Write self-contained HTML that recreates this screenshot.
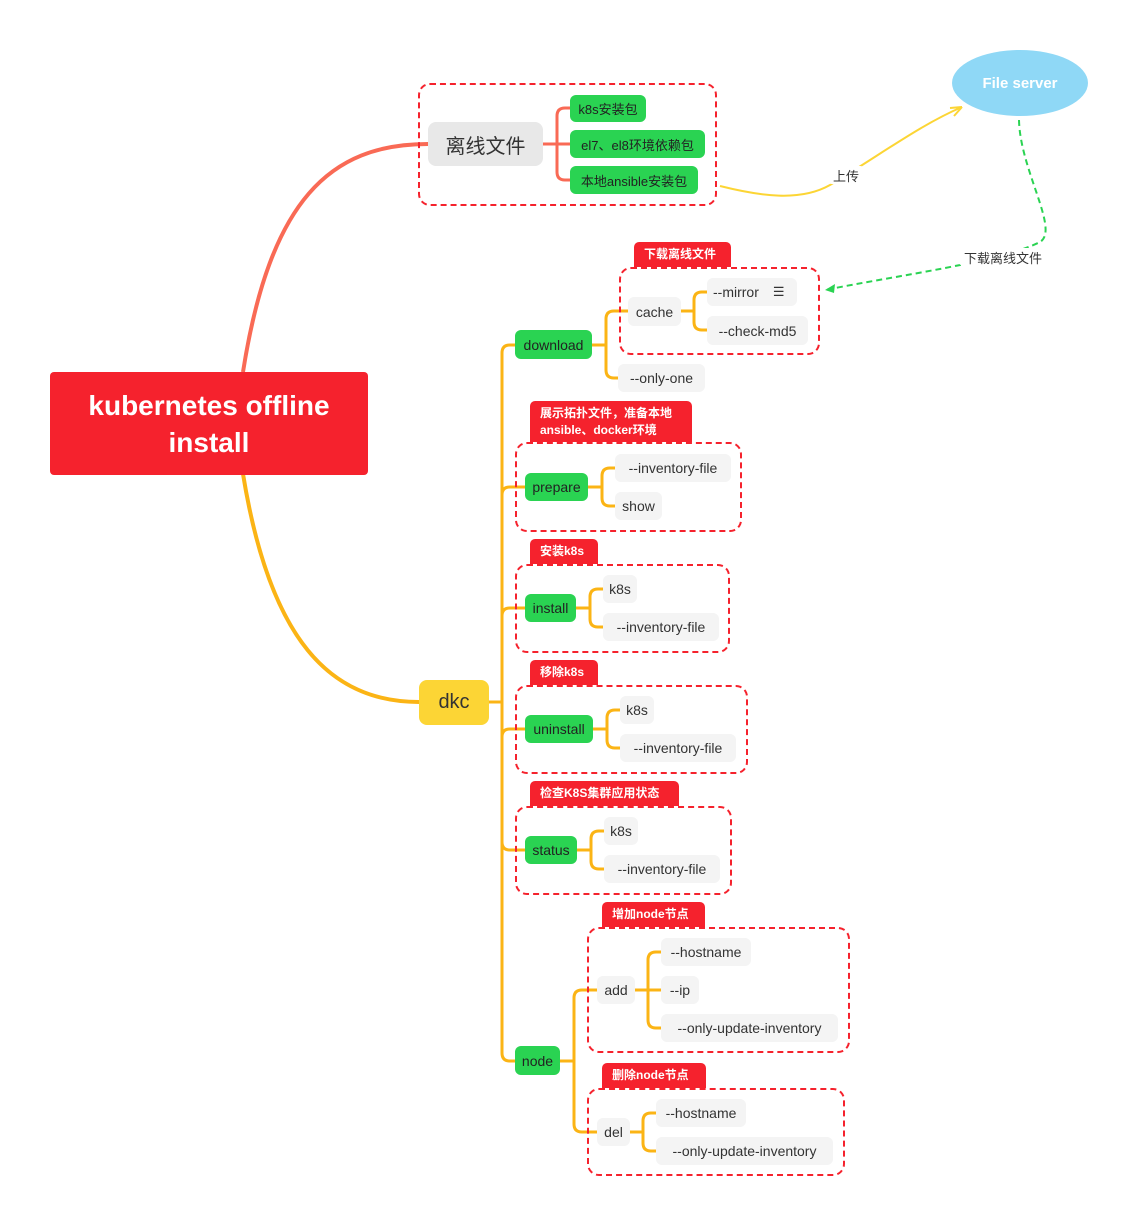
<!DOCTYPE html>
<html><head><meta charset="utf-8"><style>
body{margin:0;width:1138px;height:1226px;background:#fff;position:relative;overflow:hidden;font-family:"Liberation Sans","Noto Sans CJK SC",sans-serif;}
.n{position:absolute;box-sizing:border-box;display:flex;align-items:center;justify-content:center;white-space:nowrap;color:#333;font-size:14px;border-radius:6px;}
.g{background:#2ad352;color:#222;}
.s{background:#f4f4f4;}
.t{background:#f5222d;color:#fff;font-weight:bold;font-size:12px;border-radius:5px 5px 0 0;justify-content:flex-start;padding-left:10px;line-height:17px}
.b{position:absolute;box-sizing:border-box;border:2px dashed #f5222d;border-radius:12px;}
svg{position:absolute;left:0;top:0}
</style></head><body>
<svg width="1138" height="1226" fill="none">
<path d="M243 372 C 270 200, 330 144, 428 144" stroke="#f96a55" stroke-width="4"/>
<path d="M243 474 C 270 640, 330 702, 419 702" stroke="#fbb415" stroke-width="4"/>
<g stroke="#f96a55" stroke-width="3">
<path d="M543 144 H570 M557 144 V116 Q557 108 565 108 H570 M557 144 V172 Q557 180 565 180 H570"/>
</g>
<g stroke="#fbb415" stroke-width="3">
<path d="M488 702 H502 M502 702 V353 Q502 345 510 345 H515 M502 702 V495 Q502 487 510 487 H525 M502 702 V616 Q502 608 510 608 H525 M502 702 V737 Q502 729 510 729 H525 M502 702 V842 Q502 850 510 850 H525 M502 702 V1053 Q502 1061 510 1061 H515"/>
<path d="M592 345 H606 M606 345 V319 Q606 311 614 311 H628 M606 345 V370 Q606 378 614 378 H618"/>
<path d="M681 311 H694 M694 311 V300 Q694 292 702 292 H707 M694 311 V322 Q694 330 702 330 H707"/>
<path d="M588 487 H602 M602 487 V476 Q602 468 610 468 H615 M602 487 V498 Q602 506 610 506 H615"/>
<path d="M576 608 H590 M590 608 V597 Q590 589 598 589 H603 M590 608 V619 Q590 627 598 627 H603"/>
<path d="M593 729 H607 M607 729 V718 Q607 710 615 710 H620 M607 729 V740 Q607 748 615 748 H620"/>
<path d="M577 850 H591 M591 850 V839 Q591 831 599 831 H604 M591 850 V861 Q591 869 599 869 H604"/>
<path d="M560 1061 H574 M574 1061 V998 Q574 990 582 990 H597 M574 1061 V1124 Q574 1132 582 1132 H597"/>
<path d="M635 990 H661 M648 990 V960 Q648 952 656 952 H661 M648 990 V1020 Q648 1028 656 1028 H661"/>
<path d="M630 1132 H643 M643 1132 V1121 Q643 1113 651 1113 H656 M643 1132 V1143 Q643 1151 651 1151 H656"/>
</g>
<path d="M720 186 C 760 196, 800 202, 830 185 C 880 155, 920 125, 962 107" stroke="#fcd535" stroke-width="2"/>
<path d="M962 107 L950 108 M962 107 L954 116" stroke="#fcd535" stroke-width="2"/>
<path d="M1019 120 C 1020 170, 1060 230, 1040 242 C 1000 262, 900 275, 825 290" stroke="#2ad352" stroke-width="2" stroke-dasharray="6 4"/>
<path d="M825 290 L835 284 L834 293 Z" fill="#2ad352"/>
<ellipse cx="1020" cy="83" rx="68" ry="33" fill="#8fd8f6"/>
</svg>
<div class="n" style="left:952px;top:70px;width:136px;height:26px;color:#fff;font-weight:bold;font-size:15px">File server</div>
<div class="n" style="left:826px;top:166px;width:40px;height:18px;font-size:13px;background:#fff">上传</div>
<div class="n" style="left:958px;top:248px;width:90px;height:18px;font-size:13px;background:#fff">下载离线文件</div>

<div class="n" style="left:50px;top:372px;width:318px;height:103px;background:#f5222d;color:#fff;font-weight:bold;font-size:28px;white-space:normal;text-align:center;line-height:37px;border-radius:4px">kubernetes offline<br>install</div>

<div class="b" style="left:418px;top:83px;width:299px;height:123px"></div>
<div class="n" style="left:428px;top:122px;width:115px;height:44px;background:#e8e8e8;font-size:20px;border-radius:8px">离线文件</div>
<div class="n g" style="left:570px;top:95px;width:76px;height:27px;font-size:13px">k8s安装包</div>
<div class="n g" style="left:570px;top:130px;width:135px;height:28px;font-size:13px">el7、el8环境依赖包</div>
<div class="n g" style="left:570px;top:166px;width:128px;height:28px;font-size:13px">本地ansible安装包</div>

<div class="n" style="left:419px;top:680px;width:70px;height:45px;background:#fcd535;font-size:20px;border-radius:8px">dkc</div>

<div class="t n" style="left:634px;top:242px;width:97px;height:25px">下载离线文件</div>
<div class="b" style="left:619px;top:267px;width:201px;height:88px"></div>
<div class="n g" style="left:515px;top:330px;width:77px;height:29px">download</div>
<div class="n s" style="left:628px;top:297px;width:53px;height:29px">cache</div>
<div class="n s" style="left:707px;top:278px;width:90px;height:28px;justify-content:flex-start;padding-left:6px">--mirror <span style="margin-left:14px;font-size:13px">☰</span></div>
<div class="n s" style="left:707px;top:316px;width:101px;height:29px">--check-md5</div>
<div class="n s" style="left:618px;top:364px;width:87px;height:28px">--only-one</div>

<div class="t n" style="left:530px;top:401px;width:162px;height:41px;align-items:center">展示拓扑文件，准备本地<br>ansible、docker环境</div>
<div class="b" style="left:515px;top:442px;width:227px;height:90px"></div>
<div class="n g" style="left:525px;top:473px;width:63px;height:28px">prepare</div>
<div class="n s" style="left:615px;top:454px;width:116px;height:28px">--inventory-file</div>
<div class="n s" style="left:615px;top:492px;width:47px;height:28px">show</div>

<div class="t n" style="left:530px;top:539px;width:68px;height:25px">安装k8s</div>
<div class="b" style="left:515px;top:564px;width:215px;height:89px"></div>
<div class="n g" style="left:525px;top:594px;width:51px;height:28px">install</div>
<div class="n s" style="left:603px;top:575px;width:34px;height:28px">k8s</div>
<div class="n s" style="left:603px;top:613px;width:116px;height:28px">--inventory-file</div>

<div class="t n" style="left:530px;top:660px;width:68px;height:25px">移除k8s</div>
<div class="b" style="left:515px;top:685px;width:233px;height:89px"></div>
<div class="n g" style="left:525px;top:715px;width:68px;height:28px">uninstall</div>
<div class="n s" style="left:620px;top:696px;width:34px;height:28px">k8s</div>
<div class="n s" style="left:620px;top:734px;width:116px;height:28px">--inventory-file</div>

<div class="t n" style="left:530px;top:781px;width:149px;height:25px">检查K8S集群应用状态</div>
<div class="b" style="left:515px;top:806px;width:217px;height:89px"></div>
<div class="n g" style="left:525px;top:836px;width:52px;height:28px">status</div>
<div class="n s" style="left:604px;top:817px;width:34px;height:28px">k8s</div>
<div class="n s" style="left:604px;top:855px;width:116px;height:28px">--inventory-file</div>

<div class="n g" style="left:515px;top:1046px;width:45px;height:29px">node</div>
<div class="t n" style="left:602px;top:902px;width:103px;height:25px">增加node节点</div>
<div class="b" style="left:587px;top:927px;width:263px;height:126px"></div>
<div class="n s" style="left:597px;top:976px;width:38px;height:28px">add</div>
<div class="n s" style="left:661px;top:938px;width:90px;height:28px">--hostname</div>
<div class="n s" style="left:661px;top:976px;width:38px;height:28px">--ip</div>
<div class="n s" style="left:661px;top:1014px;width:177px;height:28px">--only-update-inventory</div>

<div class="t n" style="left:602px;top:1063px;width:104px;height:25px">删除node节点</div>
<div class="b" style="left:587px;top:1088px;width:258px;height:88px"></div>
<div class="n s" style="left:597px;top:1118px;width:33px;height:28px">del</div>
<div class="n s" style="left:656px;top:1099px;width:90px;height:28px">--hostname</div>
<div class="n s" style="left:656px;top:1137px;width:177px;height:28px">--only-update-inventory</div>
</body></html>
